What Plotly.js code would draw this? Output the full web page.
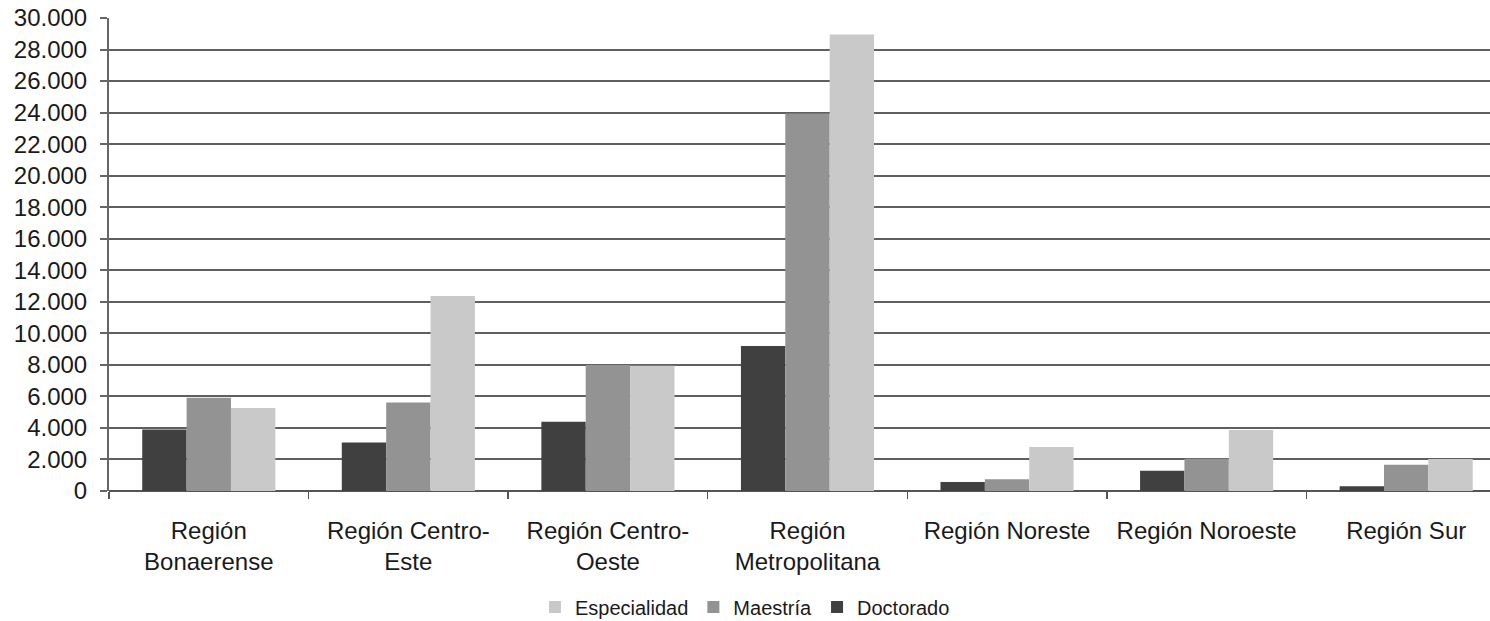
<!DOCTYPE html>
<html>
<head>
<meta charset="utf-8">
<script src="https://cdn.plot.ly/plotly-3.0.1.min.js"></script>
<style>html,body{margin:0;padding:0;background:#fff;}#chart{width:1490px;height:621px;}</style>
</head>
<body>
<div id="chart"></div>
<script>
const categories = ["Región<br>Bonaerense", "Región Centro-<br>Este", "Región Centro-<br>Oeste", "Región<br>Metropolitana", "Región Noreste", "Región Noroeste", "Región Sur"];
const doctorado = [3900, 3070, 4400, 9200, 570, 1290, 300];
const maestria = [5920, 5620, 7990, 23950, 740, 2050, 1670];
const especialidad = [5260, 12370, 7950, 28960, 2790, 3870, 2030];
const yTicks = [0, 2000, 4000, 6000, 8000, 10000, 12000, 14000, 16000, 18000, 20000, 22000, 24000, 26000, 28000, 30000];

const font = "'Liberation Sans', Arial, sans-serif";
const traces = [
  {type: 'bar', name: 'Doctorado', x: categories, y: doctorado, marker: {color: '#404040', line: {width: 0}}},
  {type: 'bar', name: 'Maestría', x: categories, y: maestria, marker: {color: '#939393', line: {width: 0}}},
  {type: 'bar', name: 'Especialidad', x: categories, y: especialidad, marker: {color: '#c9c9c9', line: {width: 0}}}
];
const layout = {
  width: 1490, height: 621,
  margin: {l: 109, r: 0, t: 18, b: 130},
  paper_bgcolor: '#fff', plot_bgcolor: '#fff',
  separators: ',.',
  barmode: 'group', bargap: 0.333, bargroupgap: 0,
  font: {family: font, color: '#1a1a1a', size: 24},
  xaxis: {
    range: [-0.5, 6.42], fixedrange: true, automargin: false,
    showline: false, showgrid: false, zeroline: false,
    ticks: 'outside', tickson: 'boundaries', ticklen: 7, tickwidth: 1.5, tickcolor: '#555',
    tickfont: {size: 24, family: font, color: '#1a1a1a'},
    tickangle: 0, ticklabelstandoff: 23
  },
  yaxis: {
    range: [0, 30000], tickvals: yTicks, tickformat: ',d', automargin: false,
    showline: true, linecolor: '#666', linewidth: 2,
    showgrid: true, gridcolor: '#5f5f5f', gridwidth: 2,
    zeroline: true, zerolinecolor: '#555', zerolinewidth: 2,
    ticks: 'outside', ticklen: 7, tickwidth: 2, tickcolor: '#666',
    tickfont: {size: 24, family: font, color: '#1a1a1a'},
    ticklabelstandoff: 8
  },
  showlegend: true,
  legend: {orientation: 'h', traceorder: 'reversed', x: 0.4605, xanchor: 'center',
           yref: 'container', y: 0.0225, yanchor: 'middle',
           font: {size: 20, family: font, color: '#1a1a1a'}, itemwidth: 30}
};
Plotly.newPlot('chart', traces, layout, {displayModeBar: false, staticPlot: true});
</script>
</body>
</html>
